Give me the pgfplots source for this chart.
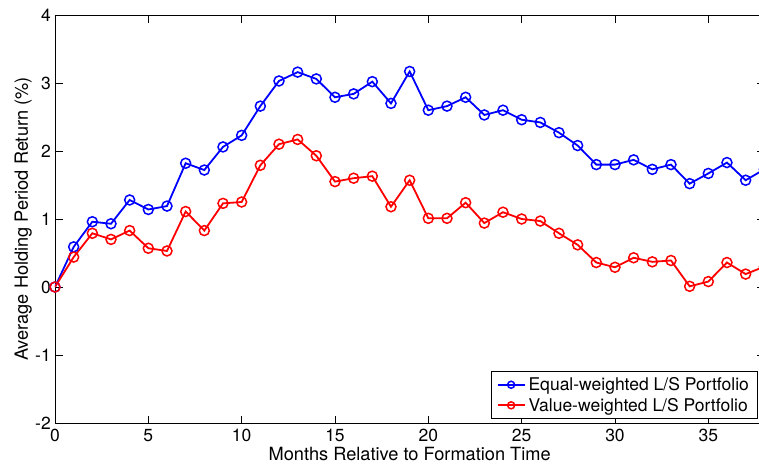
\documentclass[border=0pt]{standalone}
\usepackage{pgfplots}
\pgfplotsset{compat=1.18}
\usepackage{fontspec}
\setmainfont{TeX Gyre Heros}
\usetikzlibrary{calc}

\newcommand{\chartfont}{\fontsize{17.5}{21}\selectfont}
\newcommand{\labelfont}{\fontsize{18.2}{22}\selectfont}

% Cumulative long/short portfolio returns by month after formation
\pgfplotstableread{
m ew
0 0
1 0.59
2 0.96
3 0.93
4 1.28
5 1.14
6 1.19
7 1.82
8 1.72
9 2.06
10 2.23
11 2.66
12 3.03
13 3.16
14 3.06
15 2.79
16 2.84
17 3.02
18 2.70
19 3.17
20 2.60
21 2.66
22 2.79
23 2.53
24 2.60
25 2.46
26 2.42
27 2.27
28 2.08
29 1.80
30 1.80
31 1.87
32 1.73
33 1.80
34 1.52
35 1.67
36 1.83
37 1.57
38 1.73
}\ewdata

\pgfplotstableread{
m vw
0 0
1 0.44
2 0.79
3 0.70
4 0.83
5 0.57
6 0.53
7 1.11
8 0.83
9 1.23
10 1.25
11 1.79
12 2.10
13 2.17
14 1.93
15 1.55
16 1.60
17 1.63
18 1.18
19 1.57
20 1.01
21 1.01
22 1.24
23 0.94
24 1.10
25 1.00
26 0.97
27 0.79
28 0.62
29 0.36
30 0.29
31 0.43
32 0.37
33 0.39
34 0.01
35 0.08
36 0.36
37 0.19
38 0.30
}\vwdata

\begin{document}
\begin{tikzpicture}
\begin{axis}[
  scale only axis,
  width=709.3pt, height=408pt,
  xmin=0, xmax=38, ymin=-2, ymax=4,
  xtick={0,5,...,35}, ytick={-2,-1,...,4},
  xtick pos=both, ytick pos=both,
  xticklabel pos=lower, yticklabel pos=left,
  tick align=inside, major tick length=7.5pt,
  axis line style={line width=0.8pt},
  every tick/.style={black, line width=0.8pt},
  /pgf/number format/assume math mode=true,
  tick label style={font=\chartfont},
  xticklabel style={anchor=base, inner sep=0pt, yshift=-18pt},
  yticklabel style={anchor=east, inner sep=0pt, xshift=-4pt},
  xlabel={Months Relative to Formation Time},
  ylabel={Average Holding Period Return (\%)},
  label style={font=\labelfont},
  xlabel style={at={([yshift=-37pt]axis description cs:0.5,0)}, anchor=base, inner sep=0pt},
  ylabel style={at={([xshift=-27pt]axis description cs:0,0.5)}, anchor=base, inner sep=0pt},
  legend cell align=left,
  legend style={at={(1,0)}, anchor=south east, xshift=-7pt, yshift=4pt,
    font=\chartfont, draw=black, line width=0.8pt,
    inner xsep=5pt, inner ysep=3pt, row sep=0pt,
    nodes={inner sep=3pt}},
  legend image code/.code={
    \draw[mark repeat=2, mark phase=2, #1, mark size=3.5pt]
      plot coordinates {(0pt,0pt) (13.5pt,0pt) (27pt,0pt)};
  },
]
\addplot[blue, line width=1.8pt, mark=o, mark size=5pt,
  mark options={line width=1.5pt}] table[x=m, y=ew] {\ewdata};
\addlegendentry{Equal-weighted L/S Portfolio}
\addplot[red, line width=1.8pt, mark=o, mark size=5pt,
  mark options={line width=1.5pt}] table[x=m, y=vw] {\vwdata};
\addlegendentry{Value-weighted L/S Portfolio}
\end{axis}
\pgfresetboundingbox
\path[use as bounding box] ($(current axis.south west)+(-55pt,-49pt)$)
  rectangle ($(current axis.south west)+(704pt,423pt)$);
\end{tikzpicture}
\end{document}
